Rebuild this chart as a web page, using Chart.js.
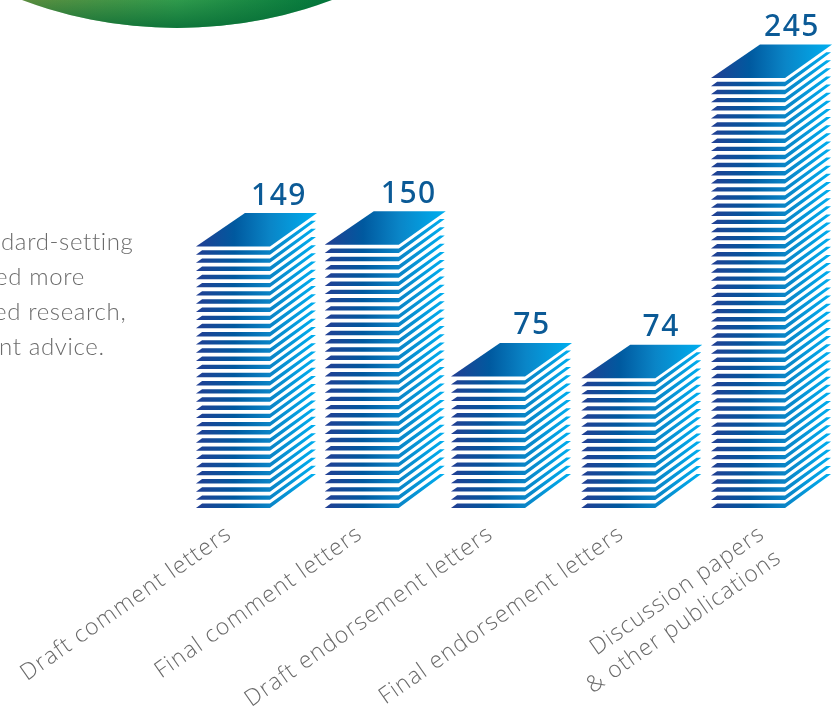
<!DOCTYPE html>
<html>
<head>
<meta charset="utf-8">
<title>Publications</title>
<script src="https://cdn.jsdelivr.net/npm/chart.js@4"></script>
<style>
  html, body { margin: 0; padding: 0; background: #fff; }
  #chart { display: block; }
</style>
</head>
<body>
<canvas id="chart" width="838" height="708"></canvas>
<script>
const categories = [
  'Draft comment letters',
  'Final comment letters',
  'Draft endorsement letters',
  'Final endorsement letters',
  ['Discussion papers', '& other publications'],
];
const counts = [149, 150, 75, 74, 245];
const introLines = ['dard-setting', 'ed more', 'ed research,', 'nt advice.'];

// small per-column corrections, the original is not evenly spaced
const columnNudge = [0, 0, -2.5, -1, 0];
const labelNudge = [0, 2, 4, 6, 18];
const valueNudge = [2, 3, 0, -1, 0];
const introLeft = [1, -5, -6, -1];

const depthX = 46;
const depthY = 33;
const sheetPitch = 8.15;
const sheetThick = 4.4;

function drawStack(ctx, x0, top, base, width) {
  const x1 = x0 + width;
  const grad = ctx.createLinearGradient(x0, 0, x1 + depthX, 0);
  grad.addColorStop(0, '#233f93');
  grad.addColorStop(0.32, '#00599f');
  grad.addColorStop(0.62, '#0a85c7');
  grad.addColorStop(1, '#00aeef');
  ctx.fillStyle = grad;

  const sheets = Math.round((base - top) / sheetPitch);
  const pitch = (base - top) / sheets;
  const slant = depthX / depthY;
  for (let i = 0; i < sheets; i++) {
    const y = base - i * pitch;
    ctx.beginPath();
    ctx.moveTo(x0, y);
    ctx.lineTo(x1, y);
    ctx.lineTo(x1 + depthX, y - depthY - 1);
    ctx.lineTo(x1 + depthX - (sheetThick - 1) * slant, y - depthY - 1);
    ctx.lineTo(x1, y - sheetThick);
    ctx.lineTo(x0 + sheetThick * slant, y - sheetThick);
    ctx.closePath();
    ctx.fill();
  }
  // the top sheet is seen whole
  ctx.beginPath();
  ctx.moveTo(x0, top);
  ctx.lineTo(x1, top);
  ctx.lineTo(x1 + depthX + 1, top - depthY - 0.5);
  ctx.lineTo(x0 + depthX + 3, top - depthY - 0.5);
  ctx.closePath();
  ctx.fill();
}

const backdrop = {
  id: 'backdrop',
  beforeDraw(chart) {
    const ctx = chart.ctx;
    ctx.save();
    const green = ctx.createLinearGradient(20, 0, 335, 0);
    green.addColorStop(0, '#5b8c3e');
    green.addColorStop(0.5, '#2f9a4c');
    green.addColorStop(1, '#00743a');
    ctx.fillStyle = green;
    ctx.beginPath();
    ctx.arc(177, 28 - 443, 443, 0, Math.PI * 2);
    ctx.fill();
    const shade = ctx.createLinearGradient(0, 0, 0, 29);
    shade.addColorStop(0, 'rgba(0,100,50,0)');
    shade.addColorStop(1, 'rgba(0,100,50,0.7)');
    ctx.fillStyle = shade;
    ctx.fill();

    ctx.fillStyle = '#6b6b6b';
    ctx.font = '300 24px Lato';
    ctx.textBaseline = 'alphabetic';
    ctx.letterSpacing = '0.65px';
    introLines.forEach((line, i) => ctx.fillText(line, introLeft[i], 250 + i * 34.9));
    ctx.letterSpacing = '0px';
    ctx.restore();
  },
};

const paperStacks = {
  id: 'paperStacks',
  afterDatasetsDraw(chart) {
    const ctx = chart.ctx;
    const bars = chart.getDatasetMeta(0).data;
    const xScale = chart.scales.x;
    ctx.save();
    bars.forEach((bar, i) => {
      const x0 = bar.x - bar.width / 2 + columnNudge[i];
      drawStack(ctx, x0, bar.y, bar.base, bar.width);

      ctx.fillStyle = '#0b5a96';
      ctx.font = '500 30px "Noto Sans"';
      ctx.textAlign = 'center';
      ctx.textBaseline = 'alphabetic';
      ctx.letterSpacing = '1.5px';
      ctx.fillText(String(counts[i]), x0 + 81 + valueNudge[i], bar.y - 42);
      ctx.letterSpacing = '0px';
    });

    ctx.fillStyle = '#6a6a6a';
    ctx.font = '300 23px "Open Sans"';
    ctx.letterSpacing = '1.1px';
    ctx.textAlign = 'right';
    ctx.textBaseline = 'alphabetic';
    categories.forEach((label, i) => {
      const lines = [].concat(label);
      ctx.save();
      ctx.translate(xScale.getPixelForValue(i) + labelNudge[i], 537);
      ctx.rotate(-35 * Math.PI / 180);
      lines.forEach((line, j) => ctx.fillText(line, 0, j * 29));
      ctx.restore();
    });
    ctx.restore();
  },
};

new Chart(document.getElementById('chart'), {
  type: 'bar',
  data: {
    labels: categories,
    datasets: [{
      data: counts,
      backgroundColor: 'transparent',
      categoryPercentage: 1,
      barPercentage: 0.575,
    }],
  },
  options: {
    responsive: false,
    animation: false,
    layout: { padding: { left: 168.6, right: 25.6, top: 69.25, bottom: 200 } },
    plugins: { legend: { display: false }, tooltip: { enabled: false } },
    scales: {
      x: { display: false },
      y: { display: false, min: 0, max: 250 },
    },
  },
  plugins: [backdrop, paperStacks],
});
</script>
</body>
</html>
